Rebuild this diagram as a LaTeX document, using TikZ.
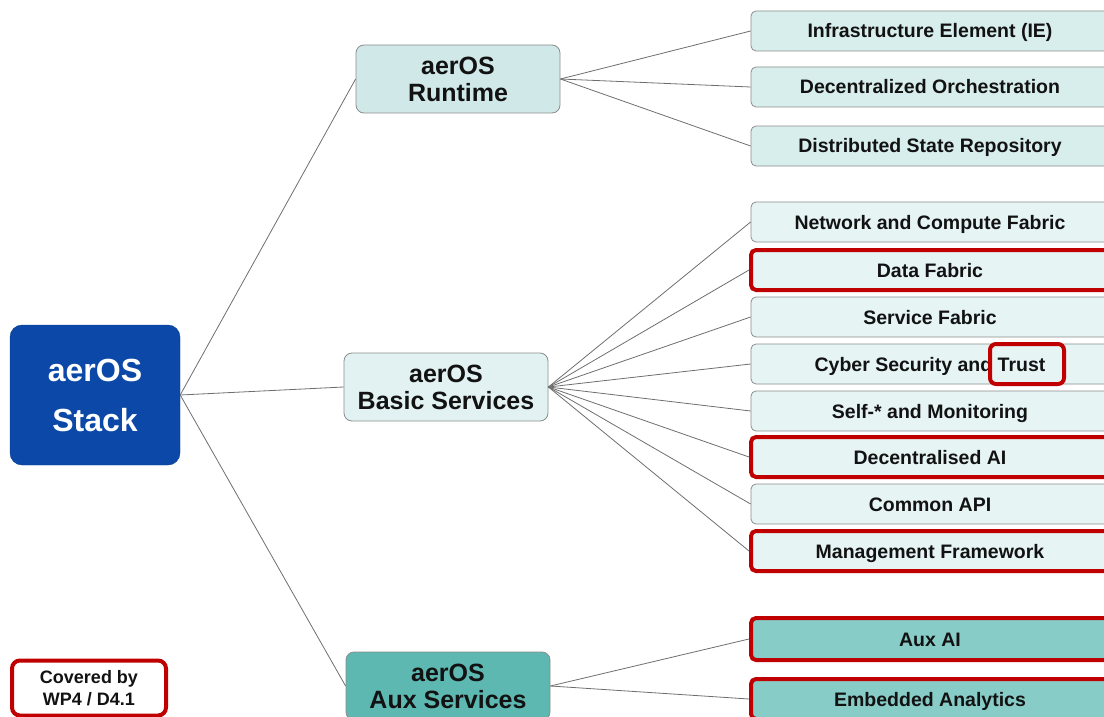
\documentclass[tikz,border=0pt]{standalone}
\usepackage{fontspec}
\setmainfont{Liberation Sans}
\usepackage{tikz}

\definecolor{stackblue}{RGB}{12,72,168}
\definecolor{runtimefill}{RGB}{208,232,232}
\definecolor{basicfill}{RGB}{226,242,242}
\definecolor{auxfill}{RGB}{92,184,176}
\definecolor{runtimeleaf}{RGB}{216,238,236}
\definecolor{basicleaf}{RGB}{230,244,244}
\definecolor{auxleaf}{RGB}{136,204,199}
\definecolor{boxgray}{RGB}{140,140,140}
\definecolor{linegray}{RGB}{110,110,110}
\definecolor{hlred}{RGB}{192,0,0}

\begin{document}
\begin{tikzpicture}
        [
        x=1pt,y=-1pt,
        every node/.style={align=center,text=black!93},
        root/.style={rounded corners=12pt,fill=stackblue,draw=stackblue!85!black,text=white,
            minimum width=170pt,minimum height=140pt,inner sep=0pt,
            font=\fontsize{32}{50}\selectfont\bfseries},
        group/.style={rounded corners=8pt,draw=boxgray,line width=0.8pt,
            minimum width=204pt,minimum height=68pt,inner sep=0pt,
            font=\fontsize{25}{27}\selectfont\bfseries},
        leaf/.style={rounded corners=5pt,draw=boxgray,line width=0.8pt,
            minimum width=358pt,minimum height=40pt,inner sep=0pt,
            text height=14pt,text depth=0pt,
            font=\fontsize{19.5}{23}\selectfont\bfseries},
        covered/.style={draw=hlred,line width=4pt},
        edge/.style={draw=linegray,line width=0.8pt}
        ]
    \useasboundingbox (0,0) rectangle (1104,717);
    \clip (0,0) rectangle (1104,717);

    \node[root] (stack) at (95,395) {aerOS\\Stack};
    \node[group,fill=runtimefill] (runtime) at (458,79) {aerOS\\Runtime};
    \node[group,fill=basicfill] (basic) at (446,387) {aerOS\\Basic Services};
    \node[group,fill=auxfill] (aux) at (448,686) {aerOS\\Aux Services};

    \node[leaf,fill=runtimeleaf] (ie) at (930,31) {Infrastructure Element (IE)};
    \node[leaf,fill=runtimeleaf] (orch) at (930,87) {Decentralized Orchestration};
    \node[leaf,fill=runtimeleaf] (repo) at (930,146) {Distributed State Repository};

    \node[leaf,fill=basicleaf] (ncf) at (930,222) {Network and Compute Fabric};
    \node[leaf,fill=basicleaf,covered] (datafab) at (930,270) {Data Fabric};
    \node[leaf,fill=basicleaf] (servfab) at (930,317) {Service Fabric};
    \node[leaf,fill=basicleaf] (cyber) at (930,364) {Cyber Security and Trust};
    \node[leaf,fill=basicleaf] (selfmon) at (930,411) {Self-* and Monitoring};
    \node[leaf,fill=basicleaf,covered] (decai) at (930,457) {Decentralised AI};
    \node[leaf,fill=basicleaf] (capi) at (930,504) {Common API};
    \node[leaf,fill=basicleaf,covered] (mgmt) at (930,551) {Management Framework};

    \node[leaf,fill=auxleaf,covered,minimum height=42pt] (auxai) at (930,639) {Aux AI};
    \node[leaf,fill=auxleaf,covered] (embed) at (930,699) {Embedded Analytics};

    % highlight on "Trust"
    \node[covered,rounded corners=6pt,minimum width=74pt,minimum height=40pt,inner sep=0pt] (trust) at (1027,364) {};

    \node[covered,rounded corners=8pt,fill=white,minimum width=154pt,minimum height=55pt,inner sep=0pt,
        font=\fontsize{18}{22}\selectfont\bfseries] (legend) at (89,688) {Covered by\\WP4 / D4.1};

    \draw[edge] (stack.east) -- (runtime.west);
    \draw[edge] (stack.east) -- (basic.west);
    \draw[edge] (stack.east) -- (aux.west);

    \draw[edge] (runtime.east) -- (ie.west);
    \draw[edge] (runtime.east) -- (orch.west);
    \draw[edge] (runtime.east) -- (repo.west);

    \draw[edge] (basic.east) -- (ncf.west);
    \draw[edge] (basic.east) -- (datafab.west);
    \draw[edge] (basic.east) -- (servfab.west);
    \draw[edge] (basic.east) -- (cyber.west);
    \draw[edge] (basic.east) -- (selfmon.west);
    \draw[edge] (basic.east) -- (decai.west);
    \draw[edge] (basic.east) -- (capi.west);
    \draw[edge] (basic.east) -- (mgmt.west);

    \draw[edge] (aux.east) -- (auxai.west);
    \draw[edge] (aux.east) -- (embed.west);
    \end{tikzpicture}
\end{document}
